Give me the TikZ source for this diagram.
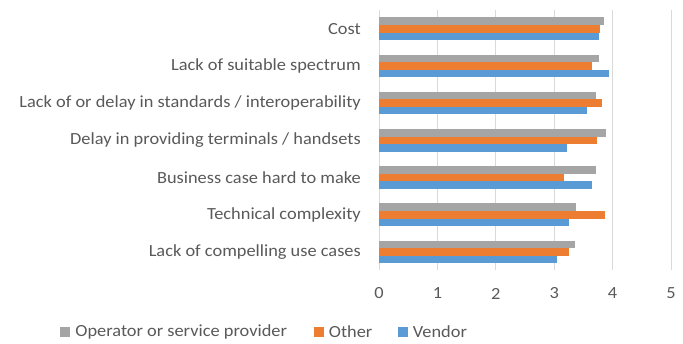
\documentclass[tikz,border=0pt]{standalone}
\usepackage{fontspec}
\setmainfont{Carlito}[FakeStretch=1.08]
\usetikzlibrary{positioning}
\definecolor{opgray}{HTML}{A5A5A5}
\definecolor{othorange}{HTML}{ED7D31}
\definecolor{venblue}{HTML}{5B9BD5}
\definecolor{txtgray}{HTML}{595959}
\definecolor{gridgray}{HTML}{D9D9D9}
\tikzset{
 bar/.style={draw=none,fill=#1},
 catlabel/.style={anchor=east,inner sep=0pt,text=txtgray},
 ticklabel/.style={inner sep=0pt,text=txtgray},
 legbox/.style={fill=#1,minimum size=10pt,inner sep=0pt},
 legtext/.style={inner sep=0pt,text=txtgray,anchor=west}
}

\begin{document}
\begin{tikzpicture}[x=1pt,y=-1pt,font=\fontsize{17}{20}\selectfont,node distance=5pt]
\useasboundingbox (0,0) rectangle (683,343);
% grid and value axis
\foreach \i in {0,...,5} {
 \draw[gridgray,line width=1pt] ({379+58.4*\i},10) -- ({379+58.4*\i},270);
 \node[ticklabel] (tick\i) at ({379+58.4*\i},293.5) {\i};
}
% categories: name/operator/other/vendor
\foreach \name/\op/\ot/\ve [count=\k from 0] in {
 {Cost}/3.85/3.78/3.77,
 {Lack of suitable spectrum}/3.76/3.65/3.93,
 {Lack of or delay in standards / interoperability}/3.71/3.81/3.57,
 {Delay in providing terminals / handsets}/3.89/3.73/3.22,
 {Business case hard to make}/3.71/3.17/3.64,
 {Technical complexity}/3.38/3.87/3.25,
 {Lack of compelling use cases}/3.35/3.25/3.05} {
 \pgfmathsetmacro\yc{28.7+37.2*\k}
 \fill[bar=opgray] (379,\yc-11.3) rectangle ({379+58.4*\op},\yc-3.8);
 \fill[bar=othorange] (379,\yc-3.8) rectangle ({379+58.4*\ot},\yc+3.8);
 \fill[bar=venblue] (379,\yc+3.8) rectangle ({379+58.4*\ve},\yc+11.3);
 \node[catlabel] (cat\k) at (361,\yc) {\name};
}
% legend
\node[legbox=opgray] (legop) at (65,332) {};
\node[legtext,right=of legop.east] (legoptext) {Operator or service provider};
\node[legbox=othorange] (legot) at (318.5,332) {};
\node[legtext,right=of legot.east] (legottext) {Other};
\node[legbox=venblue] (legve) at (402.5,332) {};
\node[legtext,right=of legve.east] (legvetext) {Vendor};
\end{tikzpicture}
\end{document}
